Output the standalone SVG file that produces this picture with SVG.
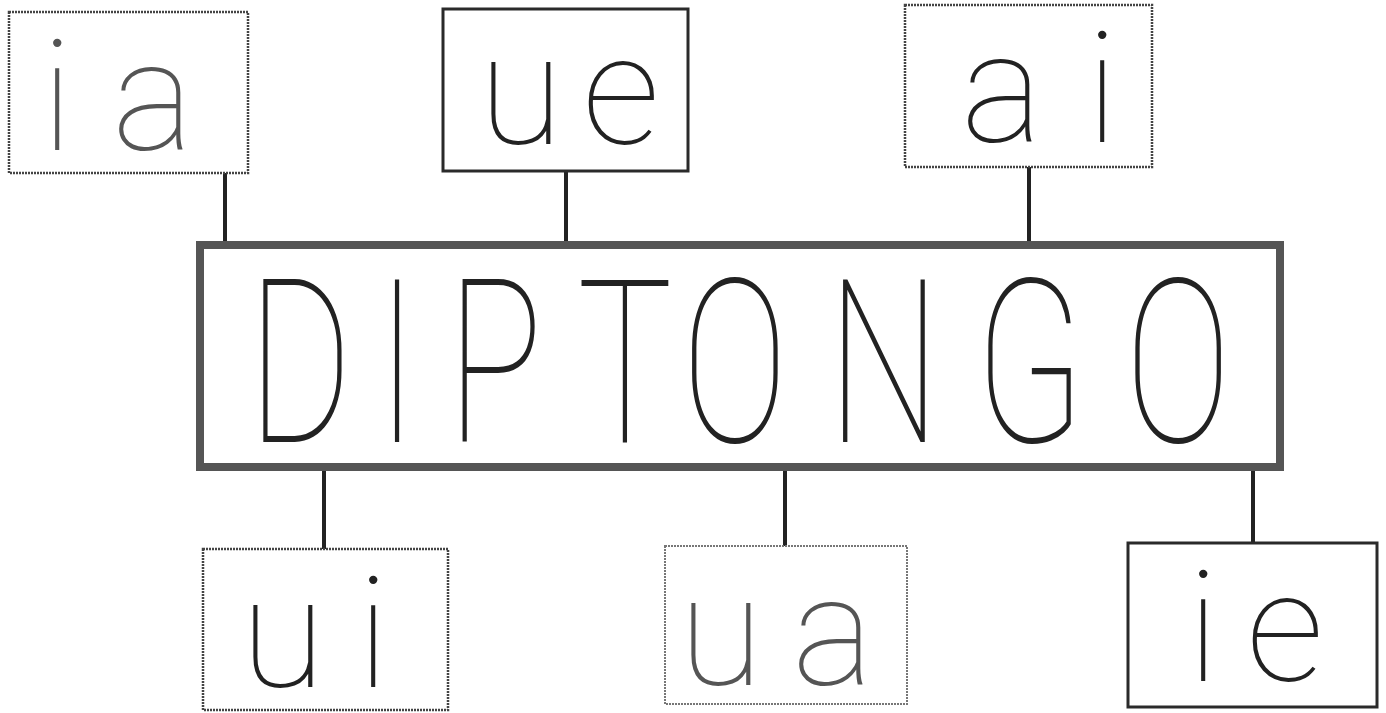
<svg xmlns="http://www.w3.org/2000/svg" width="1386" height="713" viewBox="0 0 1386 713">
<style>
.box{fill:#fff;stroke:#2a2a2a;stroke-width:3}
.dot{fill:#fff;stroke:#444;stroke-width:2.5;stroke-dasharray:2 1}
.light{fill:#fff;stroke:#777;stroke-width:2;stroke-dasharray:2 1}
.main{fill:#fff;stroke:#555;stroke-width:8}
.lbl{font-family:Roboto,"Liberation Sans",sans-serif;font-weight:100;font-size:154px;fill:#222;text-anchor:middle}
.lblL{fill:#555}
.big{font-family:Roboto,"Liberation Sans",sans-serif;font-weight:100;font-size:228px;fill:#222;text-anchor:middle}
.con{stroke:#222;stroke-width:4;fill:none}
</style>
<rect width="1386" height="713" fill="#fff"/>
<g id="connectors">
<line class="con" x1="225" y1="173" x2="225" y2="245"/>
<line class="con" x1="566" y1="171" x2="566" y2="244"/>
<line class="con" x1="1029" y1="167" x2="1029" y2="242"/>
<line class="con" x1="324" y1="470" x2="324" y2="549"/>
<line class="con" x1="785" y1="470" x2="785" y2="546"/>
<line class="con" x1="1253" y1="466" x2="1253" y2="543"/>
</g>
<g id="node-diptongo">
<rect class="main" x="200" y="245" width="1080" height="222"/>
<text class="big" transform="scale(0.7,1)" y="442"><tspan x="428.6">D</tspan><tspan x="567.1">I</tspan><tspan x="707.1">P</tspan><tspan x="892.9">T</tspan><tspan x="1050">O</tspan><tspan x="1262.9">N</tspan><tspan x="1471.4">G</tspan><tspan x="1682.9">O</tspan></text>
</g>
<g id="node-ia">
<rect class="dot" x="9" y="12" width="239" height="161"/>
<text class="lbl lblL" y="150"><tspan x="57">i</tspan><tspan x="153">a</tspan></text>
</g>
<g id="node-ue">
<rect class="box" x="443" y="9" width="245" height="162"/>
<text class="lbl" y="144"><tspan x="521">u</tspan><tspan x="621">e</tspan></text>
</g>
<g id="node-ai">
<rect class="dot" x="905" y="5" width="247" height="162"/>
<text class="lbl" y="142"><tspan x="1002">a</tspan><tspan x="1102">i</tspan></text>
</g>
<g id="node-ui">
<rect class="dot" x="203" y="549" width="245" height="161"/>
<text class="lbl" y="687"><tspan x="283">u</tspan><tspan x="373">i</tspan></text>
</g>
<g id="node-ua">
<rect class="light" x="665" y="546" width="242" height="158"/>
<text class="lbl lblL" y="685"><tspan x="721">u</tspan><tspan x="833">a</tspan></text>
</g>
<g id="node-ie">
<rect class="box" x="1128" y="543" width="249" height="164"/>
<text class="lbl" y="681"><tspan x="1203">i</tspan><tspan x="1285">e</tspan></text>
</g>
</svg>
